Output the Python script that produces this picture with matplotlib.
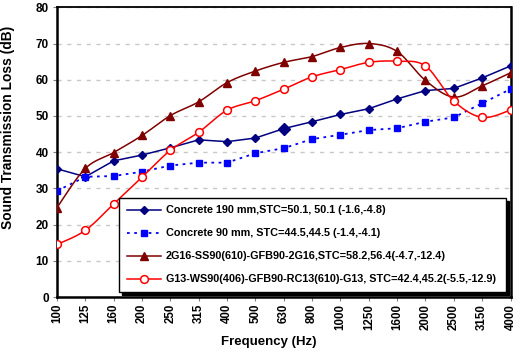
import numpy as np
import matplotlib
matplotlib.use("Agg")
import matplotlib.pyplot as plt
from matplotlib.lines import Line2D

freqs = ["100", "125", "160", "200", "250", "315", "400", "500", "630", "800",
         "1000", "1250", "1600", "2000", "2500", "3150", "4000"]
concrete190 = [35.4, 33.2, 37.6, 39.2, 41.2, 43.4, 42.9, 43.9, 46.5, 48.4,
               50.4, 52.0, 54.7, 57.0, 57.6, 60.5, 63.8]
concrete90 = [29.3, 33.2, 33.4, 34.6, 36.3, 37.1, 37.1, 39.7, 41.1, 43.6,
              44.8, 46.1, 46.6, 48.4, 49.6, 53.5, 57.4]
g16 = [24.7, 35.5, 39.9, 44.6, 50.1, 53.9, 59.2, 62.4, 64.8, 66.4,
       68.9, 70.0, 67.8, 59.8, 55.2, 58.3, 61.9]
g13 = [14.5, 18.4, 25.7, 33.1, 40.5, 45.5, 51.6, 54.2, 57.4, 60.8,
       62.8, 64.8, 65.1, 63.8, 54.1, 49.6, 51.6]
labels = ["Concrete 190 mm,STC=50.1, 50.1 (-1.6,-4.8)",
          "Concrete 90 mm, STC=44.5,44.5 (-1.4,-4.1)",
          "2G16-SS90(610)-GFB90-2G16,STC=58.2,56.4(-4.7,-12.4)",
          "G13-WS90(406)-GFB90-RC13(610)-G13, STC=42.4,45.2(-5.5,-12.9)"]


def smooth(x, y, n=20):
    x = np.asarray(x, float); y = np.asarray(y, float)
    px = np.concatenate([[x[0]], x, [x[-1]]])
    py = np.concatenate([[y[0]], y, [y[-1]]])
    xs, ys = [], []
    t = np.linspace(0, 1, n, endpoint=False)
    for i in range(1, len(px) - 2):
        p0, p1, p2, p3 = (np.array([px[j], py[j]]) for j in (i - 1, i, i + 1, i + 2))
        c1 = p1 + (p2 - p0) / 6
        c2 = p2 - (p3 - p1) / 6
        for tt in t:
            b = ((1 - tt) ** 3 * p1 + 3 * (1 - tt) ** 2 * tt * c1
                 + 3 * (1 - tt) * tt ** 2 * c2 + tt ** 3 * p2)
            xs.append(b[0]); ys.append(b[1])
    xs.append(x[-1]); ys.append(y[-1])
    return xs, ys


plt.rcParams['font.family'] = ['Liberation Sans', 'DejaVu Sans']
plt.rcParams['font.weight'] = 'bold'

fig = plt.figure(figsize=(5.2, 3.52), dpi=100)
ax = fig.add_axes([57 / 520, 1 - 297 / 352, (510.5 - 57) / 520, (297 - 7.3) / 352])

x = np.arange(len(freqs))

ax.yaxis.grid(True, color='#c8c8c8', linestyle=(0, (3, 4)), linewidth=1)
ax.set_axisbelow(True)

navy = '#000080'
blue = '#0000ff'
dred = '#800000'
red = '#ff0000'

ax.plot(x, concrete190, color=navy, lw=1.1, marker='D', ms=3.8, mfc=navy, mec=navy, zorder=3)
ax.plot(x[8], concrete190[8], marker='D', ms=6.5, color=navy, zorder=4)
ax.plot(x, concrete90, color=blue, lw=1.3, ls=(0, (1.5, 2.5)), marker='s', ms=4,
        mfc=blue, mec=blue, zorder=3)
sx, sy = smooth(x, g16)
ax.plot(sx, sy, color=dred, lw=1.1, zorder=3)
ax.plot(x, g16, ls='none', marker='^', ms=5.3, mfc=dred, mec=dred, zorder=3)
sx, sy = smooth(x, g13)
ax.plot(sx, sy, color=red, lw=1.1, zorder=3)
ax.plot(x, g13, ls='none', marker='o', ms=5.6, mfc='white', mec=red, mew=1.1, zorder=3)

ax.set_xlim(0, 16)
ax.set_ylim(0, 80)
ax.set_xticks(x)
ax.set_xticklabels(freqs, rotation=90, fontsize=8.3, fontweight='bold')
ax.set_yticks(np.arange(0, 81, 10))
ax.set_yticklabels([str(v) for v in range(0, 81, 10)], fontsize=8.5, fontweight='bold')
ax.tick_params(axis='x', length=3, width=0.8, color='#808080', pad=2)
ax.tick_params(axis='y', length=3, width=0.8, color='#808080', pad=3)
for s in ax.spines.values():
    s.set_color('black')
    s.set_linewidth(1.8)
ax.spines['top'].set_linewidth(1.3)

ax.set_xlabel('Frequency (Hz)', fontsize=9.5, fontweight='bold')
ax.xaxis.label.set_va('center')
ax.xaxis.set_label_coords((269 - 57) / 453.5, (297 - 342) / 289.7)
ax.set_ylabel('Sound Transmission Loss (dB)', fontsize=9.9, fontweight='bold')
ax.yaxis.label.set_va('center')
ax.yaxis.set_label_coords((8 - 57) / 453.5, (297 - 127) / 289.7)

handles = [
    Line2D([], [], color=navy, lw=1.1, marker='D', ms=3.8, mfc=navy, mec=navy),
    Line2D([], [], color=blue, lw=1.3, ls=(0, (1.5, 2.5)), marker='s', ms=4, mfc=blue, mec=blue),
    Line2D([], [], color=dred, lw=1.1, marker='^', ms=5.3, mfc=dred, mec=dred),
    Line2D([], [], color=red, lw=1.1, marker='o', ms=5.6, mfc='white', mec=red, mew=1.1),
]
leg = ax.legend(handles, labels, loc='lower left',
                bbox_to_anchor=(119 / 520, 1 - 292 / 352, (506 - 119) / 520, (292 - 194) / 352),
                bbox_transform=fig.transFigure, mode='expand',
                fancybox=False, framealpha=1, edgecolor='black',
                prop={'size': 7.8, 'weight': 'bold'}, handlelength=3.2,
                handletextpad=0.45, labelspacing=1.2, borderpad=0.7,
                shadow={'color': 'black', 'alpha': 1}, borderaxespad=0)
leg.get_frame().set_linewidth(1.0)
leg.set_zorder(5)

fig.savefig('out.png', dpi=100)
